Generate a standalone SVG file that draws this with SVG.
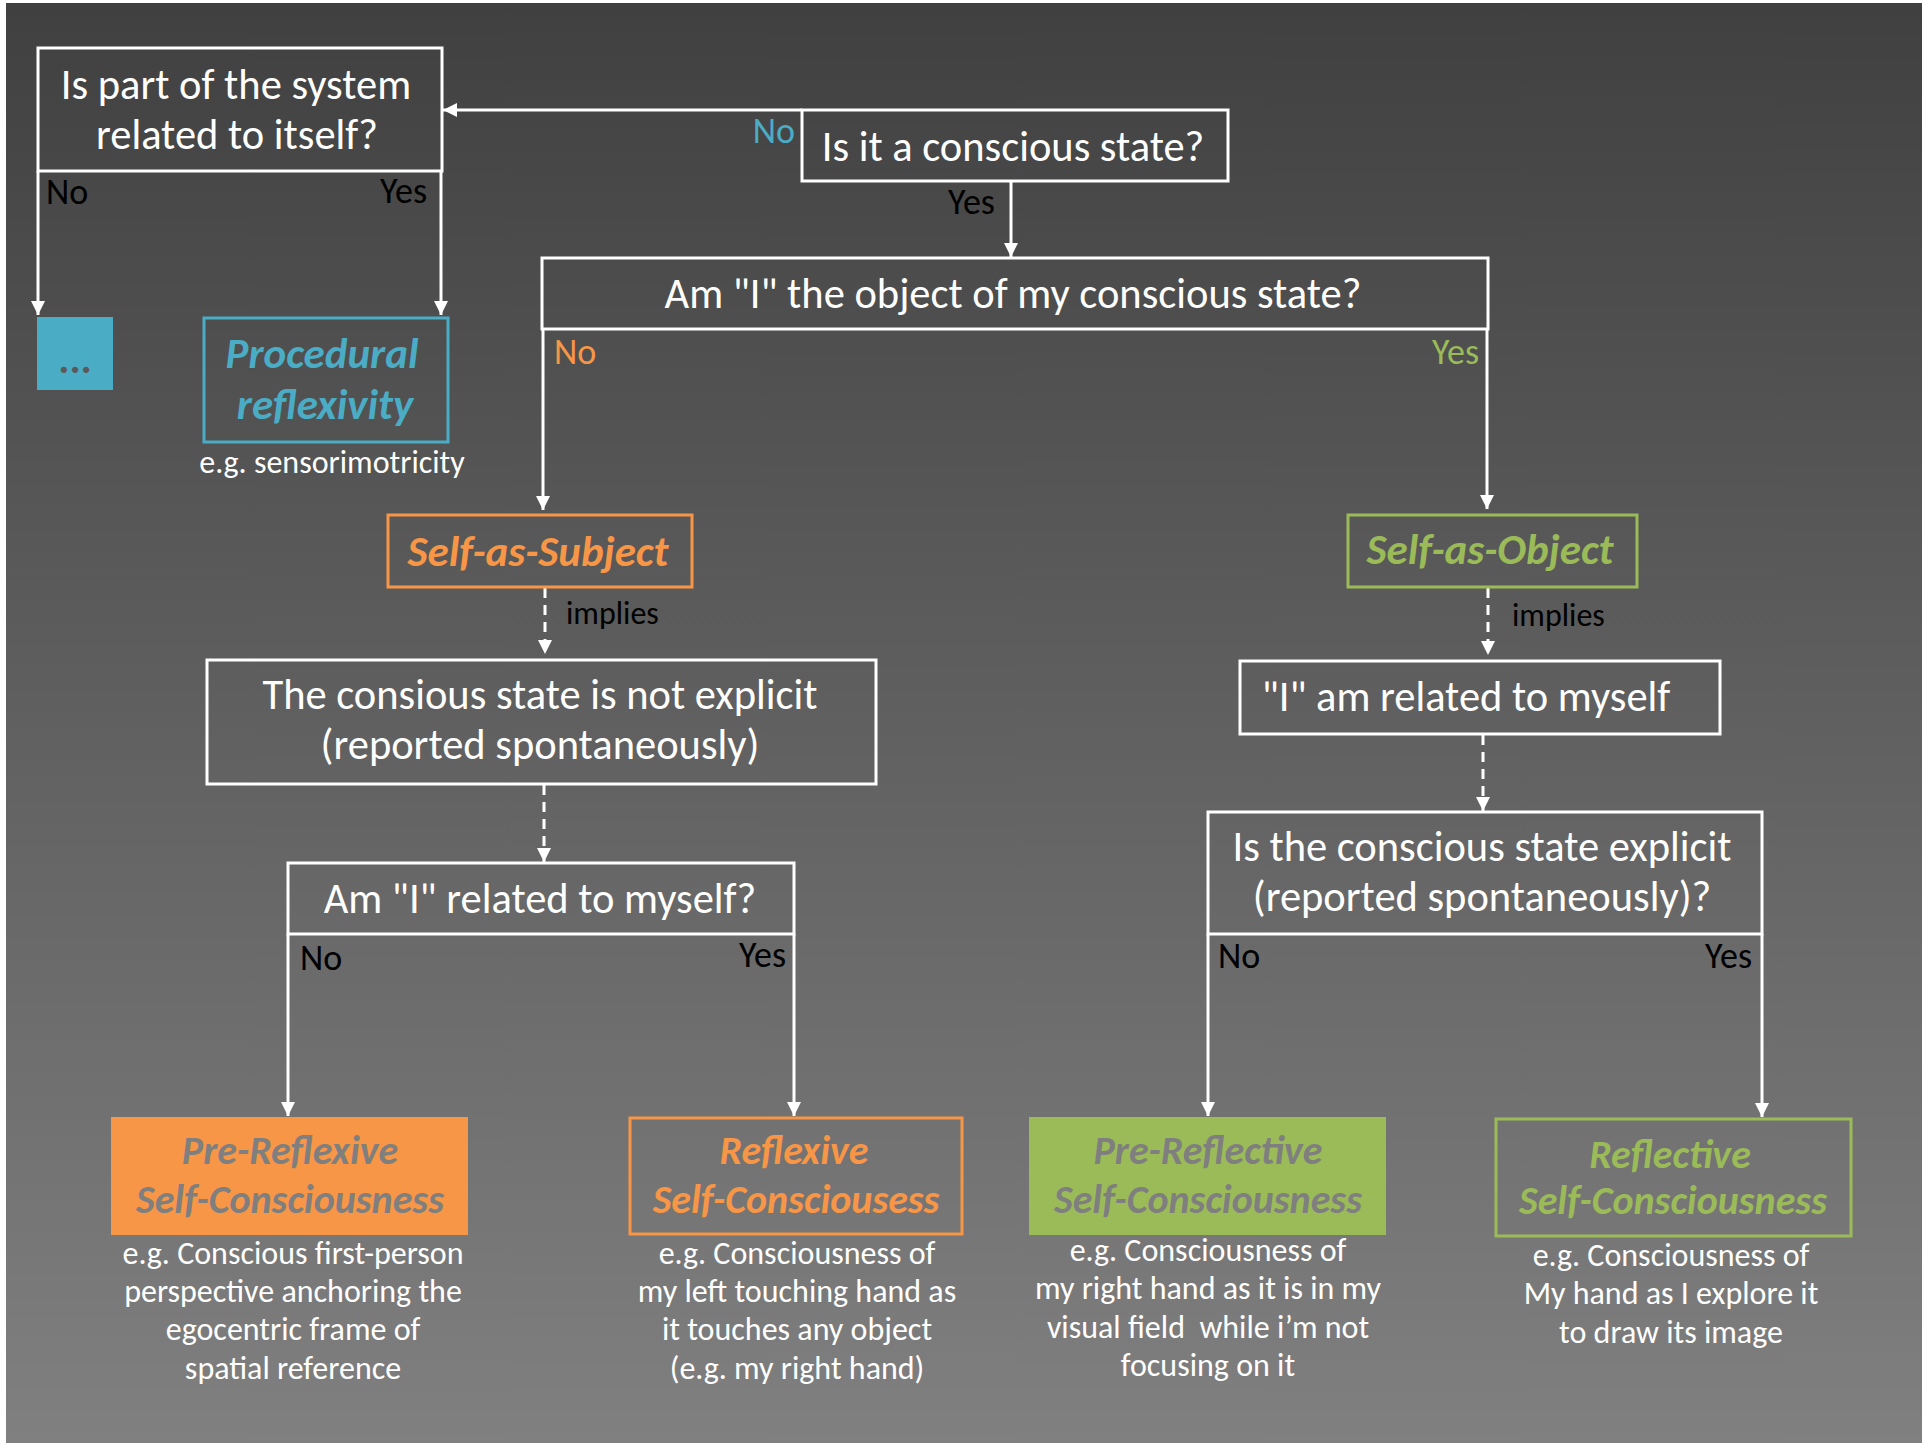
<svg xmlns="http://www.w3.org/2000/svg" width="1922" height="1446" viewBox="0 0 1922 1446">
<defs>
<linearGradient id="bg" x1="0" y1="0" x2="0" y2="1">
<stop offset="0" stop-color="#404040"/>
<stop offset="1" stop-color="#808080"/>
</linearGradient>
<marker id="ah" viewBox="0 0 14 16" refX="14" refY="8" markerWidth="14" markerHeight="16" markerUnits="userSpaceOnUse" orient="auto">
<path d="M0,1 L14,8 L0,15 Z" fill="#ffffff"/>
</marker>
</defs>
<style>
text{font-family:Carlito,"Liberation Sans Narrow","Open Sans",sans-serif;}
.box{fill:none;stroke:#ffffff;stroke-width:3;}
.q{fill:#ffffff;font-size:42.5px;text-anchor:middle;}
.lbl{font-size:36px;fill:#000000;}
.ex{fill:#ffffff;font-size:32px;text-anchor:middle;}
.imp{fill:#000000;font-size:32px;}
.ttl{font-weight:bold;font-style:italic;text-anchor:middle;}
.c{fill:none;stroke:#ffffff;stroke-width:3;marker-end:url(#ah);}
.d{stroke-dasharray:10 7;}
</style>
<rect x="0" y="0" width="1922" height="1446" fill="#ffffff"/>
<rect x="6" y="3" width="1916" height="1440" fill="url(#bg)"/>

<g id="connectors">
<path class="c" d="M38,171 V315"/>
<path class="c" d="M441,171 V315"/>
<path class="c" d="M802,110 H443"/>
<path class="c" d="M1011,181 V257"/>
<path class="c" d="M543,329 V510"/>
<path class="c" d="M1487,329 V509"/>
<path class="c d" d="M545,588 V654"/>
<path class="c d" d="M1488,588 V655"/>
<path class="c d" d="M544,785 V862"/>
<path class="c d" d="M1483,735 V811"/>
<path class="c" d="M288,934 V1116"/>
<path class="c" d="M794,934 V1116"/>
<path class="c" d="M1208,934 V1116"/>
<path class="c" d="M1762,934 V1117"/>
<text class="lbl" x="46" y="204">No</text>
<text class="lbl" x="427" y="203" text-anchor="end">Yes</text>
<text class="lbl" x="795" y="143" text-anchor="end" style="fill:#4bacc6">No</text>
<text class="lbl" x="948" y="214">Yes</text>
<text class="lbl" x="554" y="364" style="fill:#f79646">No</text>
<text class="lbl" x="1479" y="364" text-anchor="end" style="fill:#9bbb59">Yes</text>
<text class="imp" x="566" y="624">implies</text>
<text class="imp" x="1512" y="626">implies</text>
<text class="lbl" x="300" y="970">No</text>
<text class="lbl" x="786" y="967" text-anchor="end">Yes</text>
<text class="lbl" x="1218" y="968">No</text>
<text class="lbl" x="1752" y="968" text-anchor="end">Yes</text>
</g>

<g id="q_system">
<rect class="box" x="38" y="48" width="404" height="123"/>
<text class="q" x="236" y="99">Is part of the system</text>
<text class="q" x="237" y="149">related to itself?</text>
</g>

<g id="ellipsis">
<rect x="37" y="317" width="76" height="73" fill="#4bacc6"/>
<text x="75" y="373" font-size="42" font-weight="bold" fill="#5a5a5a" text-anchor="middle">...</text>
</g>

<g id="procedural">
<rect x="204" y="318" width="244" height="124" fill="none" stroke="#4bacc6" stroke-width="3"/>
<text class="ttl" x="322" y="368" font-size="43" fill="#4bacc6">Procedural</text>
<text class="ttl" x="325" y="419" font-size="43" fill="#4bacc6">reflexivity</text>
<text class="ex" x="332" y="473">e.g. sensorimotricity</text>
</g>

<g id="q_conscious">
<rect class="box" x="802" y="110" width="426" height="71"/>
<text class="q" x="1013" y="161">Is it a conscious state?</text>
</g>

<g id="q_object">
<rect class="box" x="542" y="258" width="946" height="71"/>
<text class="q" x="1013" y="308">Am "I" the object of my conscious state?</text>
</g>

<g id="self_subject">
<rect x="388" y="515" width="304" height="72" fill="none" stroke="#f79646" stroke-width="3"/>
<text class="ttl" x="538" y="566" font-size="43" fill="#f79646">Self-as-Subject</text>
</g>

<g id="not_explicit">
<rect class="box" x="207" y="660" width="669" height="124"/>
<text class="q" x="540" y="709">The consious state is not explicit</text>
<text class="q" x="540" y="759">(reported spontaneously)</text>
</g>

<g id="q_related">
<rect class="box" x="288" y="863" width="506" height="71"/>
<text class="q" x="540" y="913">Am "I" related to myself?</text>
</g>

<g id="pre_reflexive">
<rect x="111" y="1117" width="357" height="118" fill="#f79646"/>
<text class="ttl" x="290" y="1164" font-size="40" fill="#7f7f7f">Pre-Reflexive</text>
<text class="ttl" x="290" y="1213" font-size="40" fill="#7f7f7f">Self-Consciousness</text>
<text class="ex" x="293" y="1264">e.g. Conscious first-person</text>
<text class="ex" x="293" y="1302">perspective anchoring the</text>
<text class="ex" x="293" y="1340">egocentric frame of</text>
<text class="ex" x="293" y="1379">spatial reference</text>
</g>

<g id="reflexive">
<rect x="630" y="1118" width="332" height="116" fill="none" stroke="#f79646" stroke-width="3"/>
<text class="ttl" x="794" y="1164" font-size="40" fill="#f79646">Reflexive</text>
<text class="ttl" x="796" y="1213" font-size="40" fill="#f79646">Self-Consciousess</text>
<text class="ex" x="797" y="1264">e.g. Consciousness of</text>
<text class="ex" x="797" y="1302">my left touching hand as</text>
<text class="ex" x="797" y="1340">it touches any object</text>
<text class="ex" x="797" y="1379">(e.g. my right hand)</text>
</g>

<g id="self_object">
<rect x="1348" y="515" width="289" height="72" fill="none" stroke="#9bbb59" stroke-width="3"/>
<text class="ttl" x="1490" y="564" font-size="43" fill="#9bbb59">Self-as-Object</text>
</g>

<g id="related_myself">
<rect class="box" x="1240" y="661" width="480" height="73"/>
<text class="q" x="1466" y="711">"I" am related to myself</text>
</g>

<g id="q_explicit">
<rect class="box" x="1208" y="812" width="554" height="122"/>
<text class="q" x="1482" y="861">Is the conscious state explicit</text>
<text class="q" x="1482" y="911">(reported spontaneously)?</text>
</g>

<g id="pre_reflective">
<rect x="1029" y="1117" width="357" height="118" fill="#9bbb59"/>
<text class="ttl" x="1208" y="1164" font-size="40" fill="#7f7f7f">Pre-Reflective</text>
<text class="ttl" x="1208" y="1213" font-size="40" fill="#7f7f7f">Self-Consciousness</text>
<text class="ex" x="1208" y="1261">e.g. Consciousness of</text>
<text class="ex" x="1208" y="1299">my right hand as it is in my</text>
<text class="ex" x="1208" y="1338" xml:space="preserve">visual field  while i’m not</text>
<text class="ex" x="1208" y="1376">focusing on it</text>
</g>

<g id="reflective">
<rect x="1496" y="1119" width="355" height="117" fill="none" stroke="#9bbb59" stroke-width="3"/>
<text class="ttl" x="1670" y="1168" font-size="40" fill="#9bbb59">Reflective</text>
<text class="ttl" x="1673" y="1214" font-size="40" fill="#9bbb59">Self-Consciousness</text>
<text class="ex" x="1671" y="1266">e.g. Consciousness of</text>
<text class="ex" x="1671" y="1304">My hand as I explore it</text>
<text class="ex" x="1671" y="1343">to draw its image</text>
</g>
</svg>
